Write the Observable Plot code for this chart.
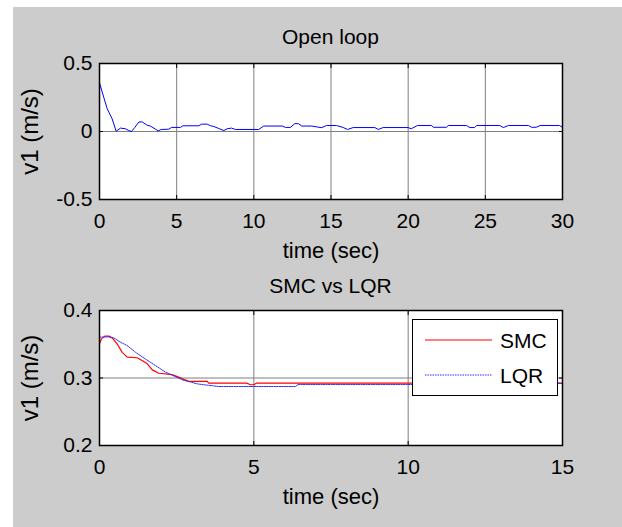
<!DOCTYPE html>
<html>
<head>
<meta charset="utf-8">
<script src="https://cdn.jsdelivr.net/npm/d3@7"></script>
<script src="https://cdn.jsdelivr.net/npm/@observablehq/plot@0.6"></script>
<style>
  body { margin: 0; background: #fff; }
  #fig { position: relative; width: 622px; height: 527px; background: #fff; overflow: hidden;
         font-family: "Liberation Sans", Arial, sans-serif; color: #000; }
  #bg { position: absolute; left: 13px; top: 7px; width: 609px; height: 520px; background: #ccc; }
  .panel { position: absolute; left: 0; }
  .title { position: absolute; left: 99px; width: 463px; text-align: center; font-size: 21px; line-height: 22px; }
  .legend { position: absolute; background: #fff; border: 1.5px solid #000; box-sizing: border-box; }
  .legend .row { position: absolute; left: 0; display: flex; align-items: center; font-size: 21px; line-height: 22px; }
</style>
</head>
<body>
<div id="fig"><div id="bg"></div></div>
<script>
// Open-loop response of v1
const openTime = [0, 0.28, 0.5, 0.82, 1.08, 1.36, 1.68, 1.9, 2.07, 2.29, 2.55, 2.77, 3.09, 3.3, 3.63, 3.8, 4.0,
  4.49, 4.67, 5.25, 5.4, 6.44, 6.61, 6.98, 7.19, 7.4, 7.73, 8.06, 8.27, 8.55, 8.81, 10.32, 10.64, 11.84, 12.05,
  12.37, 12.66, 12.9, 13.1, 13.74, 14.4, 14.7, 15.36, 15.8, 16.07, 16.44, 17.84, 18.06, 18.38, 20.0, 20.2, 20.6,
  21.5, 21.65, 22.48, 22.6, 23.78, 24.0, 24.3, 24.43, 25.94, 26.16, 26.5, 27.8, 28.0, 28.3, 28.55, 29.8, 30];
const openV1 = [0.358, 0.25, 0.167, 0.093, 0.002, 0.025, 0.02, 0.007, 0.0, 0.03, 0.07, 0.07, 0.046, 0.04, 0.017,
  0.005, 0.015, 0.017, 0.03, 0.03, 0.042, 0.042, 0.054, 0.054, 0.042, 0.037, 0.022, 0.007, 0.02, 0.025, 0.015,
  0.015, 0.04, 0.04, 0.03, 0.03, 0.058, 0.057, 0.04, 0.04, 0.028, 0.044, 0.044, 0.029, 0.015, 0.029, 0.029, 0.015,
  0.029, 0.029, 0.02, 0.044, 0.044, 0.031, 0.031, 0.044, 0.044, 0.029, 0.029, 0.044, 0.044, 0.029, 0.044, 0.044,
  0.031, 0.031, 0.044, 0.044, 0.031];
const openXTicks = [0, 5, 10, 15, 20, 25, 30];
const openYTicks = [-0.5, 0, 0.5];

// Closed-loop comparison
const seriesNames = ["SMC", "LQR"];
const smcTime = [0, 0.065, 0.17, 0.3, 0.41, 0.57, 0.735, 0.9, 1.22, 1.38, 1.55, 1.71, 1.92, 2.35, 2.52, 2.73, 2.9,
  3.49, 3.54, 4.78, 4.89, 5.0, 5.08, 15];
const smcV1 = [0.3507, 0.358, 0.362, 0.362, 0.3595, 0.3507, 0.338, 0.331, 0.33, 0.326, 0.321, 0.312, 0.307, 0.305,
  0.302, 0.298, 0.295, 0.295, 0.2923, 0.2923, 0.29, 0.29, 0.2923, 0.2923];
const lqrTime = [0, 0.3, 0.46, 0.68, 0.9, 1.17, 1.49, 1.81, 2.14, 2.46, 2.7, 2.95, 3.16, 3.38, 3.86, 6.35, 6.44,
  12.0, 12.3, 15];
const lqrV1 = [0.3605, 0.361, 0.3595, 0.353, 0.348, 0.338, 0.328, 0.3185, 0.3086, 0.302, 0.297, 0.294, 0.2914,
  0.29, 0.2874, 0.2874, 0.2904, 0.2904, 0.2922, 0.2922];
const cmpXTicks = [0, 5, 10, 15];
const cmpYTicks = [0.2, 0.3, 0.4];

const fig = document.getElementById("fig");
const fontFamily = '"Liberation Sans", Arial, sans-serif';
const fmt = d => String(d);

function panel({top, height, mTop, mBottom, xDomain, yDomain, xTicks, yTicks, lines}) {
  const chart = Plot.plot({
    width: 622, height,
    marginLeft: 99, marginRight: 60, marginTop: mTop, marginBottom: mBottom,
    style: {background: "transparent", fontSize: "21px", fontFamily, color: "#000", overflow: "visible"},
    x: {domain: xDomain, ticks: xTicks},
    y: {domain: yDomain, ticks: yTicks},
    marks: [
      Plot.frame({fill: "white", stroke: null}),
      Plot.gridX(xTicks, {stroke: "#7f7f7f", strokeOpacity: 1, strokeWidth: 1}),
      Plot.gridY(yTicks, {stroke: "#7f7f7f", strokeOpacity: 1, strokeWidth: 1}),
      ...lines,
      // inward tick marks on all four sides
      Plot.axisX(xTicks, {anchor: "bottom", tickSize: -4, tickFormat: () => "", label: null}),
      Plot.axisX(xTicks, {anchor: "top", tickSize: -4, tickFormat: () => "", label: null}),
      Plot.axisY(yTicks, {anchor: "left", tickSize: -4, tickFormat: () => "", label: null}),
      Plot.axisY(yTicks, {anchor: "right", tickSize: -4, tickFormat: () => "", label: null}),
      Plot.axisX(xTicks, {anchor: "bottom", tickSize: 0, tickPadding: 14, tickFormat: fmt, label: null}),
      Plot.axisX({anchor: "bottom", ticks: [], tickSize: 0, fontSize: 22,
        label: "time (sec)", labelAnchor: "center", labelOffset: 58, labelArrow: "none"}),
      Plot.axisY(yTicks, {anchor: "left", tickSize: 0, tickPadding: 7, tickFormat: fmt, label: null}),
      Plot.axisY({anchor: "left", ticks: [], tickSize: 0, fontSize: 24,
        label: "v1 (m/s)", labelAnchor: "center", labelOffset: 79, labelArrow: "none"}),
      Plot.frame({stroke: "#000", strokeWidth: 1.5})
    ]
  });
  chart.classList.add("panel");
  chart.style.top = top + "px";
  fig.appendChild(chart);
  return chart;
}

function addTitle(text, y) {
  const t = document.createElement("div");
  t.className = "title";
  t.style.top = (y - 11) + "px";
  t.textContent = text;
  fig.appendChild(t);
}

// Open loop panel
panel({
  top: 0, height: 264, mTop: 63, mBottom: 65,
  xDomain: [0, 30], yDomain: [-0.5, 0.5], xTicks: openXTicks, yTicks: openYTicks,
  lines: [
    Plot.line(openTime.map((t, i) => ({t, v: openV1[i]})), {x: "t", y: "v", stroke: "#0000ff", strokeWidth: 1})
  ]
});
addTitle("Open loop", 37);

// SMC vs LQR panel
const seriesStyle = {
  SMC: {stroke: "#ff0000", strokeWidth: 1.2, dash: null},
  LQR: {stroke: "#2f2fff", strokeWidth: 1, dash: "1.5,1"}
};
const smc = smcTime.map((t, i) => ({t, v: smcV1[i]}));
const lqr = lqrTime.map((t, i) => ({t, v: lqrV1[i]}));
panel({
  top: 264, height: 263, mTop: 46, mBottom: 82,
  xDomain: [0, 15], yDomain: [0.2, 0.4], xTicks: cmpXTicks, yTicks: cmpYTicks,
  lines: [
    Plot.line(smc, {x: "t", y: "v", stroke: seriesStyle.SMC.stroke, strokeWidth: seriesStyle.SMC.strokeWidth}),
    Plot.line(lqr, {x: "t", y: "v", stroke: seriesStyle.LQR.stroke, strokeWidth: seriesStyle.LQR.strokeWidth,
      strokeDasharray: seriesStyle.LQR.dash})
  ]
});
addTitle("SMC vs LQR", 286);

// Legend box
const legend = document.createElement("div");
legend.className = "legend";
Object.assign(legend.style, {left: "412px", top: "319px", width: "146px", height: "77px"});
seriesNames.forEach((name, i) => {
  const row = document.createElement("div");
  row.className = "row";
  row.style.top = (10 + i * 35) + "px";
  const s = seriesStyle[name];
  row.innerHTML = `<svg width="87" height="22"><line x1="12" x2="79" y1="10" y2="10" stroke="${s.stroke}"
    stroke-width="${s.strokeWidth}" ${s.dash ? `stroke-dasharray="${s.dash}"` : ""}/></svg><span>${name}</span>`;
  legend.appendChild(row);
});
fig.appendChild(legend);
</script>
</body>
</html>
